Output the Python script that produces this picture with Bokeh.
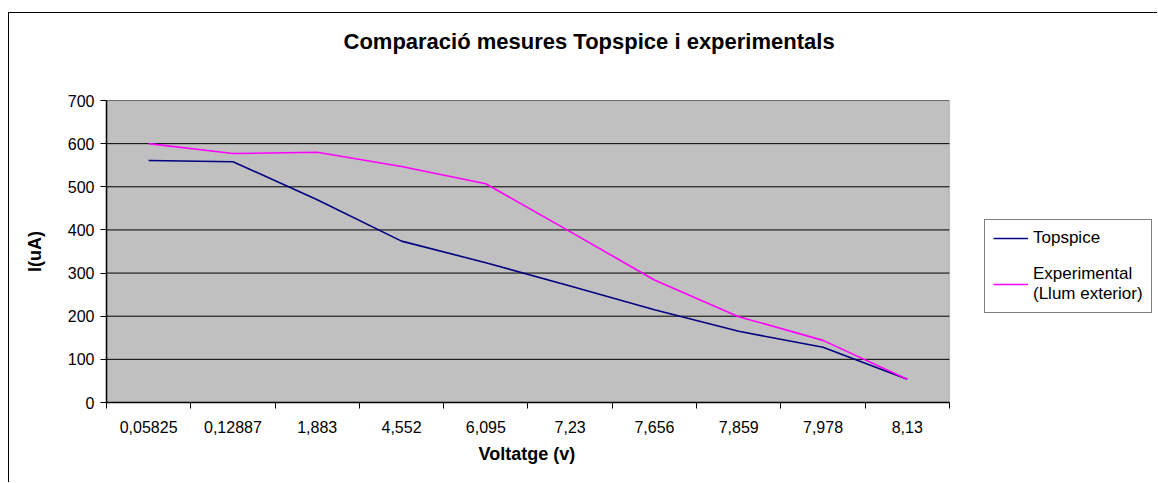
from bokeh.plotting import figure
from bokeh.models import FixedTicker, Range1d, Legend, LegendItem, Title, BoxAnnotation
from bokeh.embed import file_html
from bokeh.resources import INLINE

# Voltage readings (category labels) and measured currents in uA
voltages = ["0,05825", "0,12887", "1,883", "4,552", "6,095",
            "7,23", "7,656", "7,859", "7,978", "8,13"]
topspice = [561, 558, 470, 374, 324, 270, 215, 165, 128, 54]
experimental = [600, 577, 580, 547, 507, 396, 284, 199, 144, 54]
y_ticks = [0, 100, 200, 300, 400, 500, 600, 700]

FONT = "Liberation Sans"

n = len(voltages)
# categories are laid out one per unit slot, points in the middle of each slot
xs = [i + 0.5 for i in range(n)]

# the frame runs to the right edge so the legend can sit beside the plot area
p = figure(width=1149, height=470, output_backend="svg", toolbar_location=None,
           x_range=Range1d(0, 12.48), y_range=Range1d(0, 700),
           min_border_left=97, min_border_right=0,
           min_border_top=87, min_border_bottom=81,
           background_fill_color="white", border_fill_color="white",
           outline_line_color=None)
p.title = None

# chart border drawn around the canvas (top and left edges visible)
p.margin = (12, 0, 0, 8)
p.styles = {"border-top": "1px solid black", "border-left": "1px solid black"}

# blank spacer between the frame and the heading, then the heading itself
p.add_layout(Title(text=" ", text_font_size="10px", standoff=34), "above")
p.add_layout(Title(text="Comparació mesures Topspice i experimentals",
                   text_font=FONT, text_font_size="22px", text_font_style="bold",
                   align="left", offset=237, standoff=0, text_color="black"), "above")

# grey plot area with its border
p.add_layout(BoxAnnotation(left=0, right=n, bottom=0, top=700,
                           fill_color="#C0C0C0", fill_alpha=1.0,
                           line_color="#808080", line_width=1.5, level="underlay"))

# horizontal grid lines across the plot area
p.segment(x0=[0] * len(y_ticks), x1=[n] * len(y_ticks), y0=y_ticks, y1=y_ticks,
          line_color="black", line_width=1)

r1 = p.line(xs, topspice, line_color="#000080", line_width=1.6)
r2 = p.line(xs, experimental, line_color="#FF00FF", line_width=1.6)

# x axis: labels centred on slots, tick marks on slot boundaries
xa = p.xaxis[0]
xa.bounds = (0, n)
xa.ticker = FixedTicker(ticks=xs, minor_ticks=list(range(n + 1)))
xa.major_label_overrides = {x: v for x, v in zip(xs, voltages)}
xa.major_tick_out = 0
xa.major_tick_in = 0
xa.minor_tick_out = 6
xa.minor_tick_in = 0
xa.minor_tick_line_color = "black"
xa.axis_line_color = "black"
xa.axis_line_width = 1.5
xa.major_label_text_font = FONT
xa.major_label_text_font_size = "16px"
xa.major_label_text_color = "black"
xa.major_label_standoff = 12

# x-axis title, centred under the plot area
p.add_layout(Title(text="Voltatge (v)", text_font=FONT, text_font_size="18px",
                   text_font_style="bold", text_color="black",
                   align="left", offset=372, standoff=13), "below")

ya = p.yaxis[0]
ya.ticker = FixedTicker(ticks=y_ticks)
ya.minor_tick_out = 0
ya.minor_tick_in = 0
ya.major_tick_out = 6
ya.major_tick_in = 0
ya.major_tick_line_color = "black"
ya.axis_line_color = "black"
ya.axis_line_width = 1.5
ya.major_label_text_font = FONT
ya.major_label_text_font_size = "16px"
ya.major_label_text_color = "black"
ya.major_label_standoff = 6
ya.axis_label = "I(uA)"
ya.axis_label_text_font = FONT
ya.axis_label_text_font_size = "18px"
ya.axis_label_text_font_style = "bold"
ya.axis_label_text_color = "black"
ya.axis_label_standoff = 20

p.xgrid.grid_line_color = None
p.ygrid.grid_line_color = None

legend = Legend(items=[LegendItem(label="Topspice", renderers=[r1]),
                       LegendItem(label="Experimental\n(Llum exterior)", renderers=[r2])],
                location=(878, 89), border_line_color="black", border_line_width=1,
                background_fill_color="white", background_fill_alpha=1.0,
                label_text_font=FONT, label_text_font_size="17px",
                label_text_color="black", glyph_width=35, glyph_height=10,
                label_standoff=5, padding=8, spacing=16, margin=0)
p.add_layout(legend)

open("out.html", "w").write(file_html(p, INLINE))
